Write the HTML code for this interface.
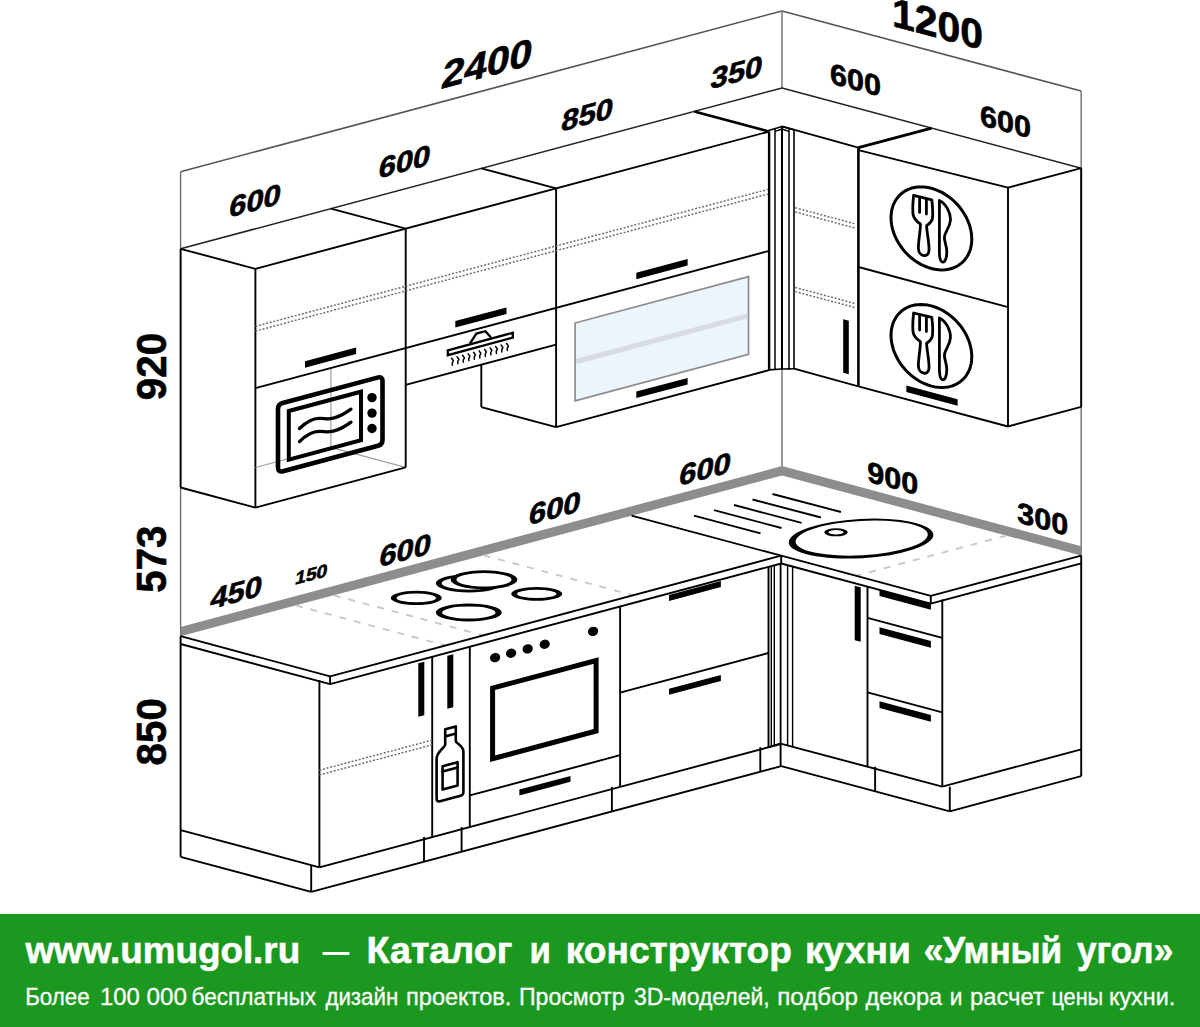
<!DOCTYPE html>
<html lang="ru"><head><meta charset="utf-8"><title>Kitchen plan</title>
<style>
html,body{margin:0;padding:0;background:#fff;}
body{width:1200px;height:1027px;position:relative;overflow:hidden;font-family:"Liberation Sans",sans-serif;}
svg{position:absolute;left:0;display:block;}
svg text{font-family:"Liberation Sans",sans-serif;}
#draw{top:0;}
#draw text{fill:#000;}
#banner{top:914px;background:#1b981f;}
#banner text{fill:#fff;}
</style></head><body>
<svg id="draw" width="1200" height="914" viewBox="0 0 1200 914">
<line x1="180.6" y1="171.7" x2="782" y2="10.9" stroke="#555" stroke-width="1.6" />
<line x1="782" y1="10.9" x2="1081.2" y2="91.1" stroke="#555" stroke-width="1.6" />
<line x1="180.6" y1="171.7" x2="180.6" y2="636.2" stroke="#666" stroke-width="1.3" />
<line x1="782" y1="10.9" x2="782" y2="88" stroke="#777" stroke-width="1.5" />
<line x1="782" y1="368.8" x2="782" y2="466.4" stroke="#777" stroke-width="1.5" />
<line x1="1081.2" y1="91.1" x2="1081.2" y2="555.6" stroke="#777" stroke-width="1.5" />
<path d="M180.6,626.9 L782,466.1 L1081.2,546.3 L1081.2,555.6 L782,475.4 L180.6,636.2 Z" fill="#8d8d8d" stroke="none" stroke-width="0" stroke-linejoin="round" />
<line x1="295.8" y1="605.4" x2="445.4" y2="645.5" stroke="#c8c8c8" stroke-width="1.9" stroke-dasharray="7 8"/>
<line x1="333.7" y1="595.3" x2="483.3" y2="635.4" stroke="#c8c8c8" stroke-width="1.9" stroke-dasharray="7 8"/>
<line x1="483.5" y1="555.2" x2="633.1" y2="595.3" stroke="#c8c8c8" stroke-width="1.9" stroke-dasharray="7 8"/>
<line x1="1006.4" y1="535.6" x2="856" y2="575.8" stroke="#c8c8c8" stroke-width="1.9" stroke-dasharray="7 8"/>
<line x1="631.6" y1="515.6" x2="781.2" y2="555.7" stroke="#000" stroke-width="1.8" />
<path d="M180.6,636.2 L330.1,676.3 L781.2,555.7 L930.8,595.8 L1081.2,555.6" fill="none" stroke="#000" stroke-width="1.9" stroke-linejoin="round" />
<path d="M180.6,644 L330.1,684.1 L781.2,563.5 L930.8,603.6 L1081.2,563.4" fill="none" stroke="#000" stroke-width="1.9" stroke-linejoin="round" />
<line x1="330.1" y1="676.3" x2="330.1" y2="684.1" stroke="#000" stroke-width="1.9" />
<line x1="781.2" y1="555.7" x2="781.2" y2="563.5" stroke="#000" stroke-width="1.9" />
<line x1="930.8" y1="595.8" x2="930.8" y2="603.6" stroke="#000" stroke-width="1.9" />
<line x1="180.6" y1="636.2" x2="180.6" y2="856.8" stroke="#000" stroke-width="1.9" />
<line x1="319.4" y1="680.2" x2="319.4" y2="867.3" stroke="#000" stroke-width="1.9" />
<line x1="180.6" y1="830.1" x2="319.4" y2="867.3" stroke="#000" stroke-width="1.9" />
<line x1="180.6" y1="856.8" x2="311.2" y2="891.8" stroke="#000" stroke-width="1.9" />
<line x1="311.2" y1="865.1" x2="311.2" y2="891.8" stroke="#000" stroke-width="1.9" />
<line x1="319.4" y1="867.3" x2="780.5" y2="744" stroke="#000" stroke-width="1.9" />
<line x1="311.2" y1="891.8" x2="781.3" y2="766.1" stroke="#000" stroke-width="1.9" />
<line x1="432.2" y1="656.8" x2="432.2" y2="837.1" stroke="#000" stroke-width="1.9" />
<line x1="424" y1="837.1" x2="424" y2="861.7" stroke="#000" stroke-width="1.9" />
<line x1="469.8" y1="646.8" x2="469.8" y2="827.1" stroke="#000" stroke-width="1.9" />
<line x1="461.6" y1="827.1" x2="461.6" y2="851.6" stroke="#000" stroke-width="1.9" />
<line x1="620.1" y1="606.6" x2="620.1" y2="786.9" stroke="#000" stroke-width="1.9" />
<line x1="611.9" y1="786.9" x2="611.9" y2="811.4" stroke="#000" stroke-width="1.9" />
<line x1="768.5" y1="566.9" x2="768.5" y2="747.2" stroke="#000" stroke-width="1.9" />
<line x1="760.3" y1="747.2" x2="760.3" y2="771.7" stroke="#000" stroke-width="1.9" />
<line x1="771.3" y1="566" x2="771.3" y2="746.1" stroke="#000" stroke-width="1.4" />
<line x1="774.3" y1="565.2" x2="774.3" y2="745.3" stroke="#000" stroke-width="1.4" />
<line x1="780.6" y1="563.5" x2="780.6" y2="743.6" stroke="#000" stroke-width="1.8" />
<line x1="787.6" y1="565.4" x2="787.6" y2="745.5" stroke="#000" stroke-width="1.4" />
<line x1="792.6" y1="566.7" x2="792.6" y2="746.8" stroke="#000" stroke-width="1.4" />
<line x1="768.5" y1="747.2" x2="780.6" y2="743.6" stroke="#000" stroke-width="1.9" />
<line x1="780.6" y1="743.6" x2="780.6" y2="766.1" stroke="#000" stroke-width="1.9" />
<line x1="780.6" y1="743.6" x2="942.3" y2="786.6" stroke="#000" stroke-width="1.9" />
<line x1="781.3" y1="766.1" x2="949.8" y2="811.3" stroke="#000" stroke-width="1.9" />
<line x1="867.5" y1="586.6" x2="867.5" y2="766.5" stroke="#000" stroke-width="1.9" />
<line x1="875.1" y1="766.7" x2="875.1" y2="791.2" stroke="#000" stroke-width="1.9" />
<line x1="942.3" y1="599.5" x2="942.3" y2="786.6" stroke="#000" stroke-width="1.9" />
<line x1="949.8" y1="786.7" x2="949.8" y2="811.3" stroke="#000" stroke-width="1.9" />
<line x1="1081.2" y1="555.6" x2="1081.2" y2="776.2" stroke="#000" stroke-width="1.9" />
<line x1="942.3" y1="786.6" x2="1081.2" y2="749.4" stroke="#000" stroke-width="1.9" />
<line x1="949.8" y1="811.3" x2="1081.2" y2="776.2" stroke="#000" stroke-width="1.9" />
<path d="M418.3,663.3 L424.3,661.7 L424.3,715.2 L418.3,716.8 Z" fill="#000" stroke="none" stroke-width="0" stroke-linejoin="round" />
<path d="M447.3,655.8 L453.3,654.2 L453.3,707.2 L447.3,708.8 Z" fill="#000" stroke="none" stroke-width="0" stroke-linejoin="round" />
<line x1="319.4" y1="770.2" x2="432.2" y2="740.1" stroke="#6e6e6e" stroke-width="1.5" stroke-dasharray="2 1.7"/>
<line x1="319.4" y1="774.9" x2="432.2" y2="744.8" stroke="#6e6e6e" stroke-width="1.5" stroke-dasharray="2 1.7"/>
<line x1="620.1" y1="692.7" x2="768.5" y2="653" stroke="#000" stroke-width="1.9" />
<path d="M669,594.9 L720.9,581 L720.9,587 L669,600.9 Z" fill="#000" stroke="none" stroke-width="0" stroke-linejoin="round" />
<path d="M669,688.8 L720.9,675 L720.9,681 L669,694.8 Z" fill="#000" stroke="none" stroke-width="0" stroke-linejoin="round" />
<line x1="469.8" y1="795.4" x2="620.1" y2="755.2" stroke="#000" stroke-width="1.9" />
<path d="M519.4,789.6 L570.5,776 L570.5,781.8 L519.4,795.4 Z" fill="#000" stroke="none" stroke-width="0" stroke-linejoin="round" />
<path d="M492.6,688.1 L596.1,660.5 L596.1,731 L492.6,758.7 Z" fill="none" stroke="#000" stroke-width="5" stroke-linejoin="miter" />
<ellipse cx="495.1" cy="657.6" rx="5.2" ry="4.6" fill="#000" transform="rotate(-20 495.1 657.6)"/>
<ellipse cx="511.1" cy="653.3" rx="5.2" ry="4.6" fill="#000" transform="rotate(-20 511.1 653.3)"/>
<ellipse cx="527.7" cy="648.9" rx="5.2" ry="4.6" fill="#000" transform="rotate(-20 527.7 648.9)"/>
<ellipse cx="544.7" cy="644.3" rx="5.2" ry="4.6" fill="#000" transform="rotate(-20 544.7 644.3)"/>
<ellipse cx="593.1" cy="631.4" rx="5.2" ry="4.6" fill="#000" transform="rotate(-20 593.1 631.4)"/>
<path d="M854.7,585.7 L860.7,587.3 L860.7,641.8 L854.7,640.2 Z" fill="#000" stroke="none" stroke-width="0" stroke-linejoin="round" />
<line x1="867.5" y1="617.8" x2="942.3" y2="637.9" stroke="#000" stroke-width="1.9" />
<line x1="867.5" y1="692.3" x2="942.3" y2="712.3" stroke="#000" stroke-width="1.9" />
<path d="M879.5,589.4 L930.9,603.2 L930.9,609.8 L879.5,596 Z" fill="#000" stroke="none" stroke-width="0" stroke-linejoin="round" />
<path d="M879.5,627.3 L930.9,641.1 L930.9,647.7 L879.5,633.9 Z" fill="#000" stroke="none" stroke-width="0" stroke-linejoin="round" />
<path d="M879.5,701.3 L930.9,715.1 L930.9,721.7 L879.5,707.9 Z" fill="#000" stroke="none" stroke-width="0" stroke-linejoin="round" />
<g fill="none" stroke="#000" stroke-width="2.6" stroke-linejoin="round" stroke-linecap="round">
<path d="M445.2,729.2 L455.8,726.4 L455.8,733.6 L445.2,736.4 Z"/>
<path d="M445.2,736.4 L445.2,744.5 C445,748 436.6,751 436.6,759 L436.6,798.5 Q436.6,802 440,801.2 L460.6,795.8 Q463.4,795 463.4,792 L463.4,752 C463.4,745 456,744 455.8,741 L455.8,733.6"/>
<path d="M442.6,766.2 L457.6,762.2 L457.6,785.6 L442.6,789.6 Z"/>
<path d="M442.6,771.6 L457.6,767.6"/>
</g>
<path d="M435.8,583.3 a33.4,9.1 0 1,0 66.8,0 a33.4,9.1 0 1,0 -66.8,0 Z M441.6,583.3 a27.6,6.4 0 1,0 55.2,0 a27.6,6.4 0 1,0 -55.2,0 Z" fill="#000" fill-rule="evenodd"/>
<path d="M451.6,579.7 a32.4,8.5 0 1,0 64.8,0 a32.4,8.5 0 1,0 -64.8,0 Z" fill="#fff"/>
<path d="M450.6,579.7 a33.4,9.5 0 1,0 66.8,0 a33.4,9.5 0 1,0 -66.8,0 Z M456.4,579.7 a27.6,6.8 0 1,0 55.2,0 a27.6,6.8 0 1,0 -55.2,0 Z" fill="#000" fill-rule="evenodd"/>
<path d="M390.8,597.9 a25.5,7.1 0 1,0 51,0 a25.5,7.1 0 1,0 -51,0 Z M396.6,597.9 a19.7,4.4 0 1,0 39.4,0 a19.7,4.4 0 1,0 -39.4,0 Z" fill="#000" fill-rule="evenodd"/>
<path d="M511.2,593.9 a25.5,6.9 0 1,0 51,0 a25.5,6.9 0 1,0 -51,0 Z M517,593.9 a19.7,4.2 0 1,0 39.4,0 a19.7,4.2 0 1,0 -39.4,0 Z" fill="#000" fill-rule="evenodd"/>
<path d="M435.8,612.5 a33,9 0 1,0 66,0 a33,9 0 1,0 -66,0 Z M442,612.5 a26.8,6.1 0 1,0 53.6,0 a26.8,6.1 0 1,0 -53.6,0 Z" fill="#000" fill-rule="evenodd"/>
<path d="M788.7,538.6 a72.4,19.6 0 1,0 144.8,0 a72.4,19.6 0 1,0 -144.8,0 Z M795.5,538.1 a66.2,17.2 0 1,0 132.4,0 a66.2,17.2 0 1,0 -132.4,0 Z" fill="#000" fill-rule="evenodd" transform="rotate(-3.2 861.1 538.6)"/>
<path d="M824.2,532.3 a11.8,4 0 1,0 23.6,0 a11.8,4 0 1,0 -23.6,0 Z M828.4,532.3 a7.6,2.2 0 1,0 15.2,0 a7.6,2.2 0 1,0 -15.2,0 Z" fill="#000" fill-rule="evenodd" transform="rotate(0 836 532.3)"/>
<line x1="772.5" y1="494" x2="841" y2="512" stroke="#000" stroke-width="1.9" />
<line x1="752.5" y1="499.5" x2="821" y2="517.5" stroke="#000" stroke-width="1.9" />
<line x1="734" y1="505" x2="801.5" y2="522.8" stroke="#000" stroke-width="1.9" />
<line x1="714" y1="510.2" x2="781.5" y2="528" stroke="#000" stroke-width="1.9" />
<line x1="694" y1="515.6" x2="760.5" y2="533.4" stroke="#000" stroke-width="1.9" />
<line x1="180.6" y1="248.8" x2="782" y2="88" stroke="#222" stroke-width="1.5" />
<line x1="782" y1="88" x2="1081.2" y2="168.2" stroke="#222" stroke-width="1.5" />
<line x1="180.6" y1="248.8" x2="180.6" y2="487.5" stroke="#000" stroke-width="1.9" />
<line x1="180.6" y1="248.8" x2="255.4" y2="268.8" stroke="#000" stroke-width="1.9" />
<line x1="255.4" y1="268.8" x2="255.4" y2="507.6" stroke="#000" stroke-width="1.9" />
<line x1="180.6" y1="487.5" x2="255.4" y2="507.6" stroke="#000" stroke-width="1.9" />
<line x1="330.9" y1="366.9" x2="330.9" y2="447.3" stroke="#a0a0a0" stroke-width="1.2" />
<line x1="330.9" y1="447.3" x2="255.4" y2="467.5" stroke="#a0a0a0" stroke-width="1.2" />
<line x1="330.9" y1="447.3" x2="405.7" y2="467.4" stroke="#a0a0a0" stroke-width="1.2" />
<line x1="255.4" y1="268.8" x2="769.1" y2="131.5" stroke="#000" stroke-width="1.9" />
<line x1="330.9" y1="208.6" x2="405.7" y2="228.6" stroke="#000" stroke-width="1.9" />
<line x1="481.3" y1="168.4" x2="556.1" y2="188.4" stroke="#000" stroke-width="1.9" />
<line x1="694.3" y1="111.5" x2="769.1" y2="131.5" stroke="#000" stroke-width="2.8" />
<line x1="405.7" y1="228.6" x2="405.7" y2="467.4" stroke="#000" stroke-width="1.9" />
<line x1="255.4" y1="507.6" x2="405.7" y2="467.4" stroke="#000" stroke-width="1.9" />
<line x1="255.4" y1="388.2" x2="769.1" y2="250.9" stroke="#000" stroke-width="1.9" />
<line x1="405.7" y1="384.9" x2="556.1" y2="344.7" stroke="#000" stroke-width="1.9" />
<line x1="556.1" y1="188.4" x2="556.1" y2="427.2" stroke="#000" stroke-width="1.9" />
<line x1="556.1" y1="427.2" x2="769.1" y2="370.2" stroke="#000" stroke-width="1.9" />
<line x1="769.1" y1="131.5" x2="769.1" y2="370.2" stroke="#000" stroke-width="2.4" />
<line x1="481.3" y1="364.7" x2="481.3" y2="407.1" stroke="#000" stroke-width="1.9" />
<line x1="481.3" y1="407.1" x2="556.1" y2="427.2" stroke="#000" stroke-width="1.9" />
<line x1="255.4" y1="326.4" x2="767.8" y2="189.4" stroke="#6e6e6e" stroke-width="1.5" stroke-dasharray="2 1.7"/>
<line x1="255.4" y1="331.1" x2="767.8" y2="194.1" stroke="#6e6e6e" stroke-width="1.5" stroke-dasharray="2 1.7"/>
<path d="M305,361.3 L356.1,347.6 L356.1,354.1 L305,367.8 Z" fill="#000" stroke="none" stroke-width="0" stroke-linejoin="round" />
<path d="M455.3,321.1 L506.5,307.4 L506.5,313.9 L455.3,327.6 Z" fill="#000" stroke="none" stroke-width="0" stroke-linejoin="round" />
<path d="M636.3,272.7 L687.6,259 L687.6,265.5 L636.3,279.2 Z" fill="#000" stroke="none" stroke-width="0" stroke-linejoin="round" />
<path d="M636.3,391.6 L687.6,377.9 L687.6,384.4 L636.3,398.1 Z" fill="#000" stroke="none" stroke-width="0" stroke-linejoin="round" />
<path d="M575.1,323 L748.5,276.6 L748.5,354.4 L575.1,400.8 Z" fill="#ecf4fc" stroke="#8c8c8c" stroke-width="1.7" stroke-linejoin="miter" />
<line x1="576.4" y1="361.5" x2="747.5" y2="315.8" stroke="#d8dbdf" stroke-width="5" />
<line x1="775" y1="128.5" x2="775" y2="369.9" stroke="#000" stroke-width="1.5" />
<line x1="782" y1="126.4" x2="782" y2="369" stroke="#000" stroke-width="2" />
<line x1="789" y1="128.5" x2="789" y2="369.9" stroke="#000" stroke-width="1.5" />
<line x1="794" y1="130" x2="794" y2="369" stroke="#000" stroke-width="1.6" />
<path d="M768.5,130.6 L782,126.4 L794,129.8" fill="none" stroke="#000" stroke-width="1.6" stroke-linejoin="round" />
<path d="M775,131.4 L782,129 L789,131.4" fill="none" stroke="#000" stroke-width="1.4" stroke-linejoin="round" />
<line x1="782" y1="126.4" x2="858.4" y2="147.6" stroke="#000" stroke-width="1.9" />
<line x1="768.5" y1="369.9" x2="782" y2="369" stroke="#000" stroke-width="1.6" />
<line x1="782" y1="369" x2="794" y2="368.7" stroke="#000" stroke-width="1.6" />
<line x1="794" y1="368.7" x2="858.4" y2="386.4" stroke="#000" stroke-width="1.9" />
<path d="M843.2,319.2 L848.8,320.8 L848.8,374.3 L843.2,372.7 Z" fill="#000" stroke="none" stroke-width="0" stroke-linejoin="round" />
<line x1="795.3" y1="207.8" x2="854.7" y2="223.7" stroke="#6e6e6e" stroke-width="1.5" stroke-dasharray="2 1.7"/>
<line x1="795.3" y1="212" x2="854.7" y2="227.9" stroke="#6e6e6e" stroke-width="1.5" stroke-dasharray="2 1.7"/>
<line x1="795.3" y1="287.5" x2="854.7" y2="303.4" stroke="#6e6e6e" stroke-width="1.5" stroke-dasharray="2 1.7"/>
<line x1="795.3" y1="291.6" x2="854.7" y2="307.5" stroke="#6e6e6e" stroke-width="1.5" stroke-dasharray="2 1.7"/>
<line x1="858.4" y1="147.6" x2="858.4" y2="386.4" stroke="#000" stroke-width="2.6" />
<line x1="858.4" y1="147.6" x2="931.6" y2="128.1" stroke="#000" stroke-width="3" />
<line x1="858.4" y1="150.2" x2="1008" y2="187.7" stroke="#000" stroke-width="1.9" />
<line x1="1008" y1="187.7" x2="1081.2" y2="168.2" stroke="#000" stroke-width="1.9" />
<line x1="1008" y1="187.7" x2="1008" y2="426.5" stroke="#000" stroke-width="1.9" />
<line x1="1081.2" y1="168.2" x2="1081.2" y2="406.9" stroke="#000" stroke-width="1.9" />
<line x1="858.4" y1="386.4" x2="1008" y2="426.5" stroke="#000" stroke-width="1.9" />
<line x1="1008" y1="426.5" x2="1081.2" y2="406.9" stroke="#000" stroke-width="1.9" />
<line x1="858.4" y1="267" x2="1008" y2="307.1" stroke="#000" stroke-width="1.9" />
<path d="M906.3,385.6 L957.6,399.3 L957.6,405.8 L906.3,392.1 Z" fill="#000" stroke="none" stroke-width="0" stroke-linejoin="round" />
<path d="M971.8,239.1 L971.6,242.6 L971.2,245.9 L970.4,249.1 L969.4,252.2 L968,255 L966.4,257.7 L964.5,260.2 L962.3,262.4 L960,264.3 L957.4,266 L954.6,267.4 L951.6,268.5 L948.5,269.3 L945.2,269.7 L941.9,269.9 L938.4,269.7 L934.9,269.3 L931.4,268.5 L927.9,267.4 L924.4,266 L920.9,264.4 L917.6,262.4 L914.3,260.2 L911.2,257.8 L908.2,255.1 L905.4,252.2 L902.8,249.2 L900.5,246 L898.3,242.6 L896.4,239.2 L894.8,235.6 L893.4,232.1 L892.4,228.4 L891.6,224.8 L891.2,221.2 L891,217.7 L891.2,214.2 L891.6,210.9 L892.4,207.7 L893.4,204.6 L894.8,201.8 L896.4,199.1 L898.3,196.6 L900.5,194.4 L902.8,192.5 L905.4,190.8 L908.2,189.4 L911.2,188.3 L914.3,187.5 L917.6,187.1 L920.9,186.9 L924.4,187.1 L927.9,187.5 L931.4,188.3 L934.9,189.4 L938.4,190.8 L941.9,192.4 L945.2,194.4 L948.5,196.6 L951.6,199 L954.6,201.7 L957.4,204.6 L960,207.6 L962.3,210.8 L964.5,214.2 L966.4,217.6 L968,221.2 L969.4,224.7 L970.4,228.4 L971.2,232 L971.6,235.6 Z" fill="none" stroke="#000" stroke-width="3" stroke-linejoin="round" />
<g transform="translate(0 0)" fill="none" stroke="#000" stroke-width="2.8" stroke-linejoin="round" stroke-linecap="round">
<path d="M913.6,195.4 L931.8,199.8 C932.6,206 933,213 932.4,218.5 C931.6,223 928,224.6 926.6,225.6 C926.8,233 929.4,243 929,250.5 C928.6,258.5 918.6,256.6 918.4,248.5 C918.2,241 920.6,231 920.4,224 C917.4,222 913.6,219 913,214 C912.4,208 913,201 913.6,195.4 Z"/>
<path d="M919.6,197.6 L919.6,212.4 M926.4,199.4 L926.4,214"/>
<path d="M939.4,200.4 C946,203.5 951,213 950.4,220.5 C949.8,228 944.6,232 944.4,237.4 C944.2,242 947,246 946.8,252.4 C946.6,257 945.6,262.4 942.6,262.2 C940.4,262 939.6,258 939.4,253 Z"/>
</g>
<path d="M971.8,356.7 L971.6,360.2 L971.2,363.5 L970.4,366.7 L969.4,369.8 L968,372.6 L966.4,375.3 L964.5,377.8 L962.3,380 L960,381.9 L957.4,383.6 L954.6,385 L951.6,386.1 L948.5,386.9 L945.2,387.3 L941.9,387.5 L938.4,387.3 L934.9,386.9 L931.4,386.1 L927.9,385 L924.4,383.6 L920.9,382 L917.6,380 L914.3,377.8 L911.2,375.4 L908.2,372.7 L905.4,369.8 L902.8,366.8 L900.5,363.6 L898.3,360.2 L896.4,356.8 L894.8,353.2 L893.4,349.7 L892.4,346 L891.6,342.4 L891.2,338.8 L891,335.3 L891.2,331.8 L891.6,328.5 L892.4,325.3 L893.4,322.2 L894.8,319.4 L896.4,316.7 L898.3,314.2 L900.5,312 L902.8,310.1 L905.4,308.4 L908.2,307 L911.2,305.9 L914.3,305.1 L917.6,304.7 L920.9,304.5 L924.4,304.7 L927.9,305.1 L931.4,305.9 L934.9,307 L938.4,308.4 L941.9,310 L945.2,312 L948.5,314.2 L951.6,316.6 L954.6,319.3 L957.4,322.2 L960,325.2 L962.3,328.4 L964.5,331.8 L966.4,335.2 L968,338.8 L969.4,342.3 L970.4,346 L971.2,349.6 L971.6,353.2 Z" fill="none" stroke="#000" stroke-width="3" stroke-linejoin="round" />
<g transform="translate(0 117.6)" fill="none" stroke="#000" stroke-width="2.8" stroke-linejoin="round" stroke-linecap="round">
<path d="M913.6,195.4 L931.8,199.8 C932.6,206 933,213 932.4,218.5 C931.6,223 928,224.6 926.6,225.6 C926.8,233 929.4,243 929,250.5 C928.6,258.5 918.6,256.6 918.4,248.5 C918.2,241 920.6,231 920.4,224 C917.4,222 913.6,219 913,214 C912.4,208 913,201 913.6,195.4 Z"/>
<path d="M919.6,197.6 L919.6,212.4 M926.4,199.4 L926.4,214"/>
<path d="M939.4,200.4 C946,203.5 951,213 950.4,220.5 C949.8,228 944.6,232 944.4,237.4 C944.2,242 947,246 946.8,252.4 C946.6,257 945.6,262.4 942.6,262.2 C940.4,262 939.6,258 939.4,253 Z"/>
</g>
<g fill="none" stroke="#000" stroke-linejoin="round" stroke-linecap="round">
<path d="M278,409 Q278,404.2 282.6,403 L377.4,377.6 Q382.5,376.2 382.5,381 L382.5,440 Q382.5,444.6 378,445.8 L283,471.2 Q278,472.6 278,467.6 Z" stroke-width="4.6"/>
<path d="M288.8,411 L361,391.7 L361,440.3 L288.8,459.6 Z" stroke-width="4" stroke-linejoin="miter"/>
<path d="M299.5,428.5 C306,422 313,417.6 321,418.4 C329,419.4 336,420 351,409.2" stroke-width="3.3"/>
<path d="M299.5,441.6 C306,435 313,430.6 321,431.4 C329,432.4 336,433 351,422.2" stroke-width="3.3"/>
</g>
<g fill="#000"><circle cx="372" cy="397.6" r="4.7"/><circle cx="372" cy="413.1" r="4.7"/><circle cx="372" cy="428.5" r="4.7"/></g>
<g fill="none" stroke="#000" stroke-linejoin="miter">
<path d="M447.8,350.4 L512.8,332.8 L512.8,337.6 L447.8,355.2 Z" stroke-width="2.3" fill="#fff"/>
<path d="M470,343.4 L476.4,333.6 L485.4,331.2 L491,337.6" stroke-width="2.3"/>
<path d="M451.6,358.2 l1.8,2.6 l-1.2,2.2 l0.2,2.2 M457.1,356.7 l1.8,2.6 l-1.2,2.2 l0.2,2.2 M462.6,355.3 l1.8,2.6 l-1.2,2.2 l0.2,2.2 M468.1,353.8 l1.8,2.6 l-1.2,2.2 l0.2,2.2 M473.6,352.3 l1.8,2.6 l-1.2,2.2 l0.2,2.2 M479.1,350.9 l1.8,2.6 l-1.2,2.2 l0.2,2.2 M484.6,349.4 l1.8,2.6 l-1.2,2.2 l0.2,2.2 M490.1,347.9 l1.8,2.6 l-1.2,2.2 l0.2,2.2 M495.6,346.5 l1.8,2.6 l-1.2,2.2 l0.2,2.2 M501.1,345 l1.8,2.6 l-1.2,2.2 l0.2,2.2 M506.6,343.5 l1.8,2.6 l-1.2,2.2 l0.2,2.2 " stroke-width="1.5" stroke-linecap="round" stroke-linejoin="round"/>
</g>
<text transform="translate(485.3 77) skewY(-14.9) skewX(-9) scale(1.07 1)" font-size="37.8" font-weight="bold" text-anchor="middle" stroke="#000" stroke-width="0.6">2400</text>
<text transform="translate(586 124.8) skewY(-14.9) skewX(-9) scale(1.07 1)" font-size="28.8" font-weight="bold" text-anchor="middle" stroke="#000" stroke-width="0.6">850</text>
<text transform="translate(253.8 210.9) skewY(-14.9) skewX(-9) scale(1.07 1)" font-size="28.8" font-weight="bold" text-anchor="middle" stroke="#000" stroke-width="0.6">600</text>
<text transform="translate(403.2 171.8) skewY(-14.9) skewX(-9) scale(1.07 1)" font-size="28.8" font-weight="bold" text-anchor="middle" stroke="#000" stroke-width="0.6">600</text>
<text transform="translate(735.2 82.5) skewY(-14.9) skewX(-9) scale(1.07 1)" font-size="28.8" font-weight="bold" text-anchor="middle" stroke="#000" stroke-width="0.6">350</text>
<text transform="translate(855.6 90) skewY(15) scale(1.04 1)" font-size="29.4" font-weight="bold" text-anchor="middle" stroke="#000" stroke-width="0.6">600</text>
<text transform="translate(937.5 37.9) skewY(15) scale(1.0 1)" font-size="41.0" font-weight="bold" text-anchor="middle" stroke="#000" stroke-width="0.6">1200</text>
<text transform="translate(1005.6 131.8) skewY(15) scale(1.04 1)" font-size="29.4" font-weight="bold" text-anchor="middle" stroke="#000" stroke-width="0.6">600</text>
<text transform="translate(234.9 602.6) skewY(-14.9) skewX(-9) scale(1.07 1)" font-size="28.8" font-weight="bold" text-anchor="middle" stroke="#000" stroke-width="0.6">450</text>
<text transform="translate(310.5 580.6) skewY(-14.9) skewX(-9) scale(1.08 1)" font-size="17.8" font-weight="bold" text-anchor="middle" stroke="#000" stroke-width="0.6">150</text>
<text transform="translate(403.9 560.5) skewY(-14.9) skewX(-9) scale(1.07 1)" font-size="28.8" font-weight="bold" text-anchor="middle" stroke="#000" stroke-width="0.6">600</text>
<text transform="translate(553.5 518.4) skewY(-14.9) skewX(-9) scale(1.07 1)" font-size="28.8" font-weight="bold" text-anchor="middle" stroke="#000" stroke-width="0.6">600</text>
<text transform="translate(703.8 479.2) skewY(-14.9) skewX(-9) scale(1.07 1)" font-size="28.8" font-weight="bold" text-anchor="middle" stroke="#000" stroke-width="0.6">600</text>
<text transform="translate(892.8 488.4) skewY(15) scale(1.04 1)" font-size="29.4" font-weight="bold" text-anchor="middle" stroke="#000" stroke-width="0.6">900</text>
<text transform="translate(1042.8 529.2) skewY(15) scale(1.04 1)" font-size="29.4" font-weight="bold" text-anchor="middle" stroke="#000" stroke-width="0.6">300</text>
<text transform="translate(166.1 366.5) rotate(-90) scale(0.93 1)" font-size="43.4" font-weight="bold" text-anchor="middle" stroke="#000" stroke-width="0.6">920</text>
<text transform="translate(166.1 559.2) rotate(-90) scale(0.93 1)" font-size="43.4" font-weight="bold" text-anchor="middle" stroke="#000" stroke-width="0.6">573</text>
<text transform="translate(166.1 731.8) rotate(-90) scale(0.93 1)" font-size="43.4" font-weight="bold" text-anchor="middle" stroke="#000" stroke-width="0.6">850</text>
</svg>
<svg id="banner" width="1200" height="113" viewBox="0 0 1200 113">
<text x="25.4" y="49.2" font-size="36.3" font-weight="bold" stroke="#fff" stroke-width="0.55" textLength="274.8" lengthAdjust="spacingAndGlyphs">www.umugol.ru</text>
<rect x="322.6" y="38" width="26.8" height="3" fill="#fff"/>
<text x="366.5" y="49.2" font-size="36.3" font-weight="bold" stroke="#fff" stroke-width="0.55" textLength="146" lengthAdjust="spacingAndGlyphs">Каталог</text>
<text x="529.4" y="49.2" font-size="36.3" font-weight="bold" stroke="#fff" stroke-width="0.55" textLength="21.4" lengthAdjust="spacingAndGlyphs">и</text>
<text x="565.8" y="49.2" font-size="36.3" font-weight="bold" stroke="#fff" stroke-width="0.55" textLength="226.1" lengthAdjust="spacingAndGlyphs">конструктор</text>
<text x="805" y="49.2" font-size="36.3" font-weight="bold" stroke="#fff" stroke-width="0.55" textLength="105.8" lengthAdjust="spacingAndGlyphs">кухни</text>
<text x="923.8" y="49.2" font-size="36.3" font-weight="bold" stroke="#fff" stroke-width="0.55" textLength="138.4" lengthAdjust="spacingAndGlyphs">«Умный</text>
<text x="1077.1" y="49.2" font-size="36.3" font-weight="bold" stroke="#fff" stroke-width="0.55" textLength="96.1" lengthAdjust="spacingAndGlyphs">угол»</text>
<text x="25.2" y="91.1" font-size="24.3" stroke="#fff" stroke-width="0.3" textLength="64.5" lengthAdjust="spacingAndGlyphs">Более</text>
<text x="100" y="91.1" font-size="24.3" stroke="#fff" stroke-width="0.3" textLength="39.8" lengthAdjust="spacingAndGlyphs">100</text>
<text x="146.5" y="91.1" font-size="24.3" stroke="#fff" stroke-width="0.3" textLength="40.5" lengthAdjust="spacingAndGlyphs">000</text>
<text x="191.5" y="91.1" font-size="24.3" stroke="#fff" stroke-width="0.3" textLength="124.5" lengthAdjust="spacingAndGlyphs">бесплатных</text>
<text x="325.4" y="91.1" font-size="24.3" stroke="#fff" stroke-width="0.3" textLength="72.9" lengthAdjust="spacingAndGlyphs">дизайн</text>
<text x="406" y="91.1" font-size="24.3" stroke="#fff" stroke-width="0.3" textLength="105.4" lengthAdjust="spacingAndGlyphs">проектов.</text>
<text x="519" y="91.1" font-size="24.3" stroke="#fff" stroke-width="0.3" textLength="105.5" lengthAdjust="spacingAndGlyphs">Просмотр</text>
<text x="634" y="91.1" font-size="24.3" stroke="#fff" stroke-width="0.3" textLength="135.7" lengthAdjust="spacingAndGlyphs">3D-моделей,</text>
<text x="777.3" y="91.1" font-size="24.3" stroke="#fff" stroke-width="0.3" textLength="80.7" lengthAdjust="spacingAndGlyphs">подбор</text>
<text x="865.5" y="91.1" font-size="24.3" stroke="#fff" stroke-width="0.3" textLength="76.7" lengthAdjust="spacingAndGlyphs">декора</text>
<text x="949.8" y="91.1" font-size="24.3" stroke="#fff" stroke-width="0.3" textLength="12.7" lengthAdjust="spacingAndGlyphs">и</text>
<text x="970" y="91.1" font-size="24.3" stroke="#fff" stroke-width="0.3" textLength="73.8" lengthAdjust="spacingAndGlyphs">расчет</text>
<text x="1051.4" y="91.1" font-size="24.3" stroke="#fff" stroke-width="0.3" textLength="51.8" lengthAdjust="spacingAndGlyphs">цены</text>
<text x="1108.9" y="91.1" font-size="24.3" stroke="#fff" stroke-width="0.3" textLength="66.4" lengthAdjust="spacingAndGlyphs">кухни.</text>
</svg>
</body></html>
